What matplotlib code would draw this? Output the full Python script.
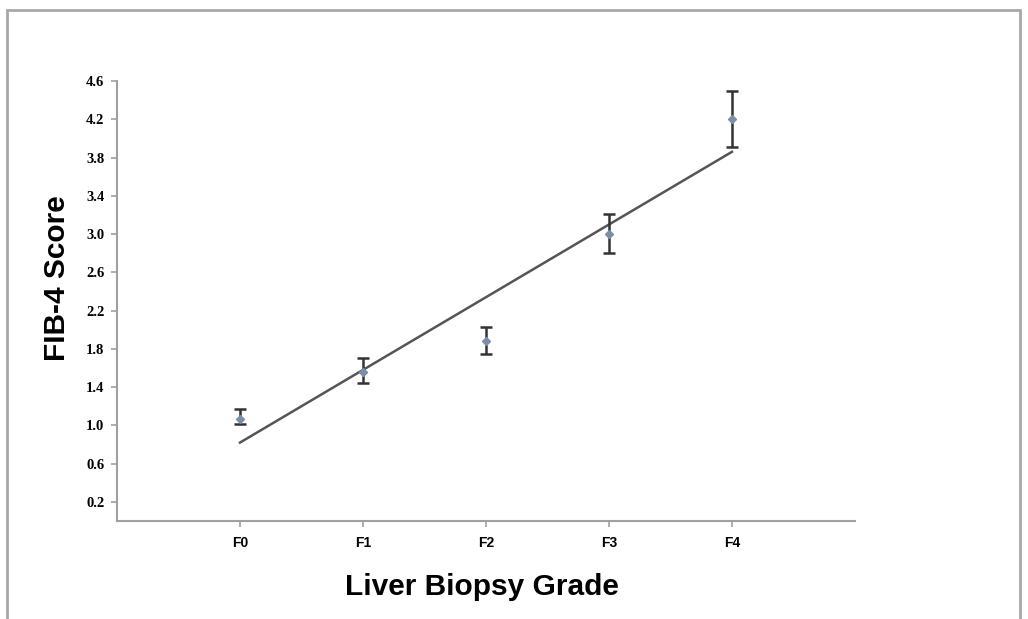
import numpy as np
import matplotlib.pyplot as plt
from matplotlib.patches import Rectangle

# FIB-4 score by liver biopsy grade
grades = ['F0', 'F1', 'F2', 'F3', 'F4']
mean_score = [1.07, 1.56, 1.88, 3.00, 4.20]
err_upper = [1.17, 1.70, 2.03, 3.21, 4.50]
err_lower = [1.01, 1.44, 1.75, 2.80, 3.91]
fit_start = 0.82
fit_end = 3.86
y_ticks = [0.2, 0.6, 1.0, 1.4, 1.8, 2.2, 2.6, 3.0, 3.4, 3.8, 4.2, 4.6]

x = np.arange(len(grades))
mean_score = np.array(mean_score)
yerr = [mean_score - np.array(err_lower), np.array(err_upper) - mean_score]

fig = plt.figure(figsize=(10.28, 6.19), dpi=100)
ax = fig.add_axes([0.1138, 0.1583, 0.7179, 0.7108])

# outer frame
fig.patches.append(Rectangle((0.007, -0.05), 0.985, 1.034, transform=fig.transFigure,
                             fill=False, edgecolor='#a8a8a8', linewidth=2))

# regression line
ax.plot([x[0], x[-1]], [fit_start, fit_end], color='#555555', linewidth=1.8, zorder=2)

ax.errorbar(x, mean_score, yerr=yerr, fmt='D', markersize=4, color='#7d8fa6',
            ecolor='#333333', elinewidth=1.8, capsize=4, capthick=1.8, zorder=3)

ax.set_xlim(-1, 5)
ax.set_ylim(0.0, 4.6)
ax.set_xticks(x)
ax.set_xticklabels(grades, fontfamily='Liberation Sans', fontweight='bold', fontsize=10)
ax.set_yticks(y_ticks)
ax.set_yticklabels([f'{v:.1f}' for v in y_ticks], fontfamily='Liberation Serif',
                   fontweight='bold', fontsize=10.5)

for side in ['top', 'right']:
    ax.spines[side].set_visible(False)
for side in ['left', 'bottom']:
    ax.spines[side].set_color('#a0a0a0')
    ax.spines[side].set_linewidth(1.5)
ax.tick_params(axis='both', color='#a0a0a0', length=4, width=1.2, pad=7)
ax.tick_params(axis='y', pad=5)

ax.set_xlabel('Liver Biopsy Grade', fontfamily='Liberation Sans', fontweight='bold',
              fontsize=21.5)
ax.xaxis.set_label_coords(0.495, -0.118)
ax.set_ylabel('FIB-4 Score', fontfamily='Liberation Sans', fontweight='bold',
              fontsize=21.5)
ax.yaxis.set_label_coords(-0.062, 0.552)

fig.savefig('out.png', dpi=100, facecolor='white')
